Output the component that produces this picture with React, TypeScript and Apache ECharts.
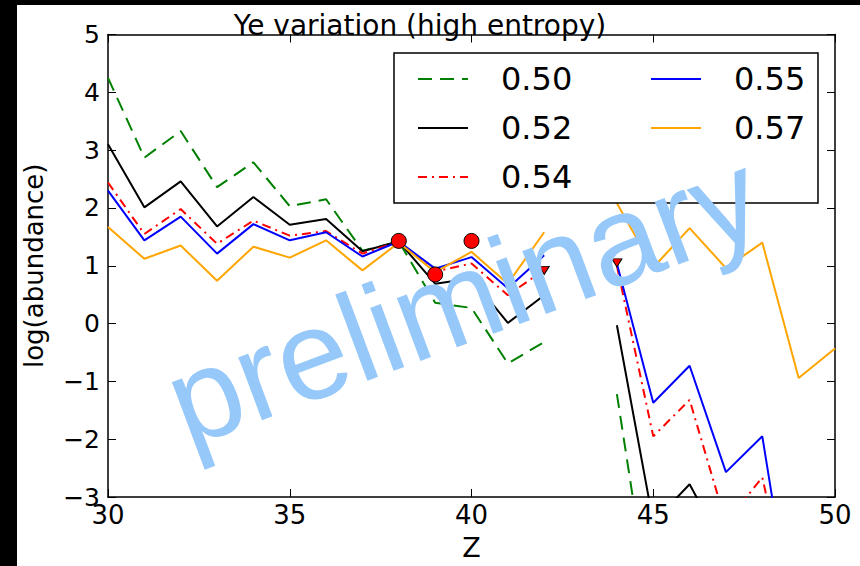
import React, { useEffect, useRef } from "react";
import * as echarts from "echarts";

// Proton number Z
const zValues = [30, 31, 32, 33, 34, 35, 36, 37, 38, 39, 40, 41, 42, 43, 44, 45, 46, 47, 48, 49, 50];

// log(abundance) for each Ye (null = no value / off chart)
const ye050 = [4.25, 2.87, 3.33, 2.36, 2.79, 2.03, 2.15, 1.26, 1.42, 0.36, 0.27, -0.69, -0.32, null, -1.22, -5.3, null, null, null, null, null];
const ye052 = [3.1, 2.01, 2.46, 1.68, 2.19, 1.71, 1.81, 1.25, 1.42, 0.69, 0.78, 0.01, 0.49, null, -0.03, -3.44, -2.78, -3.95, null, null, null];
const ye054 = [2.44, 1.55, 1.98, 1.38, 1.78, 1.52, 1.6, 1.21, 1.42, 0.9, 1.04, 0.49, 0.93, null, 1.0, -1.95, -1.32, -3.45, -2.66, -5.5, null];
const ye055 = [2.3, 1.44, 1.85, 1.21, 1.72, 1.44, 1.58, 1.16, 1.42, 0.95, 1.15, 0.61, 1.18, null, 1.04, -1.37, -0.73, -2.57, -1.95, -5.85, null];
const ye057 = [1.67, 1.12, 1.35, 0.74, 1.33, 1.14, 1.44, 0.92, 1.4, 0.89, 1.24, 0.69, 1.58, null, 2.08, 0.97, 1.65, 0.96, 1.4, -0.94, -0.43];

// observations (circles) and upper limits (down triangles)
const obsZ = [38, 39, 40];
const obsVal = [1.43, 0.85, 1.43];
const limZ = [42, 44];
const limVal = [0.92, 1.05];

const seriesNames = ["0.50", "0.52", "0.54", "0.55", "0.57"];
const legendCol1 = ["0.50", "0.52", "0.54"];
const legendCol2 = ["0.55", "0.57"];

const FONT = "DejaVu Sans";

function pairs(ys: (number | null)[]) {
  return zValues.map((z, i) => [z, ys[i] === null ? "-" : ys[i]]);
}

export default function App() {
  const ref = useRef<HTMLDivElement>(null);

  useEffect(() => {
    if (!ref.current) return;
    const chart = echarts.init(ref.current, null, { renderer: "svg" });

    const lineSeries = (name: string, ys: (number | null)[], color: string, type: any) => ({
      name,
      type: "line",
      data: pairs(ys),
      symbol: "none",
      connectNulls: false,
      clip: true,
      color,
      lineStyle: { color, width: 2, type },
      z: 2,
    });

    const minus = (v: number) => String(v).replace("-", "\u2212");

    const axisLine = { show: true, onZero: false, lineStyle: { color: "#000", width: 1.5 } };
    const axisTick = { show: true, inside: true, length: 8, lineStyle: { color: "#000", width: 1 } };

    const legendBase = {
      orient: "vertical",
      top: 63,
      padding: 0,
      itemWidth: 50,
      itemHeight: 14,
      itemGap: 17,
      itemStyle: { opacity: 0, borderWidth: 0 },
      textStyle: { fontFamily: FONT, fontSize: 32, color: "#000", padding: [0, 0, 0, 28] },
      z: 11,
    };

    const option: any = {
      animation: false,
      backgroundColor: "#ffffff",
      textStyle: { fontFamily: FONT },
      title: {
        text: "Ye variation (high entropy)",
        left: 420,
        top: 11,
        padding: 0,
        textAlign: "center",
        textStyle: { fontFamily: FONT, fontSize: 28, fontWeight: "normal", color: "#000" },
      },
      grid: { left: 108, right: 25, top: 34.5, bottom: 69 },
      xAxis: [
        {
          type: "value",
          min: 30,
          max: 50,
          interval: 5,
          name: "Z",
          nameLocation: "middle",
          nameGap: 37,
          nameTextStyle: { fontFamily: FONT, fontSize: 27, color: "#000" },
          axisLine,
          axisTick,
          axisLabel: { fontFamily: FONT, fontSize: 26, color: "#000", margin: 5 },
          splitLine: { show: false },
        },
        {
          type: "value",
          position: "top",
          min: 30,
          max: 50,
          interval: 5,
          axisLine,
          axisTick,
          axisLabel: { show: false },
          splitLine: { show: false },
        },
      ],
      yAxis: [
        {
          type: "value",
          min: -3,
          max: 5,
          interval: 1,
          name: "log(abundance)",
          nameLocation: "middle",
          nameGap: 61,
          nameRotate: 90,
          nameTextStyle: { fontFamily: FONT, fontSize: 26, color: "#000" },
          axisLine,
          axisTick,
          axisLabel: { fontFamily: FONT, fontSize: 25, color: "#000", margin: 8, formatter: minus },
          splitLine: { show: false },
        },
        {
          type: "value",
          position: "right",
          min: -3,
          max: 5,
          interval: 1,
          axisLine,
          axisTick,
          axisLabel: { show: false },
          splitLine: { show: false },
        },
      ],
      legend: [
        { ...legendBase, data: legendCol1, left: 417 },
        { ...legendBase, data: legendCol2, left: 650 },
      ],
      graphic: [
        { type: "rect", z: 0, shape: { x: 0, y: 0, width: 17, height: 566 }, style: { fill: "#000" } },
        { type: "rect", z: 0, shape: { x: 0, y: 0, width: 860, height: 5 }, style: { fill: "#000" } },
        {
          type: "rect",
          z: 10,
          shape: { x: 394, y: 53, width: 424, height: 150 },
          style: { fill: "#fff", stroke: "#000", lineWidth: 1.5 },
        },
        {
          type: "text",
          z: 100,
          x: 463,
          y: 298,
          rotation: (20.5 * Math.PI) / 180,
          style: {
            text: "preliminary",
            fontSize: 127,
            fontFamily: "Liberation Sans",
            fill: "#96c8fa",
            align: "center",
            verticalAlign: "middle",
          },
        },
      ],
      series: [
        lineSeries(seriesNames[0], ye050, "#008000", [14, 8]),
        lineSeries(seriesNames[1], ye052, "#000000", "solid"),
        lineSeries(seriesNames[2], ye054, "#ff0000", [9, 5, 2, 5]),
        lineSeries(seriesNames[3], ye055, "#0000ff", "solid"),
        lineSeries(seriesNames[4], ye057, "#ffa500", "solid"),
        {
          name: "obs",
          type: "scatter",
          data: obsZ.map((z, i) => [z, obsVal[i]]),
          symbol: "circle",
          symbolSize: 15,
          itemStyle: { color: "#ff0000", borderColor: "#000", borderWidth: 1, opacity: 1 },
          z: 5,
        },
        {
          name: "limits",
          type: "scatter",
          data: limZ.map((z, i) => [z, limVal[i]]),
          symbol: "triangle",
          symbolSize: [10, 8],
          symbolRotate: 180,
          itemStyle: { color: "#ff0000", borderColor: "#000", borderWidth: 1, opacity: 1 },
          z: 5,
        },
      ],
    };

    chart.setOption(option);
    return () => chart.dispose();
  }, []);

  return (
    <div
      ref={ref}
      style={{ position: "absolute", left: 0, top: 0, width: 860, height: 566 }}
    />
  );
}
